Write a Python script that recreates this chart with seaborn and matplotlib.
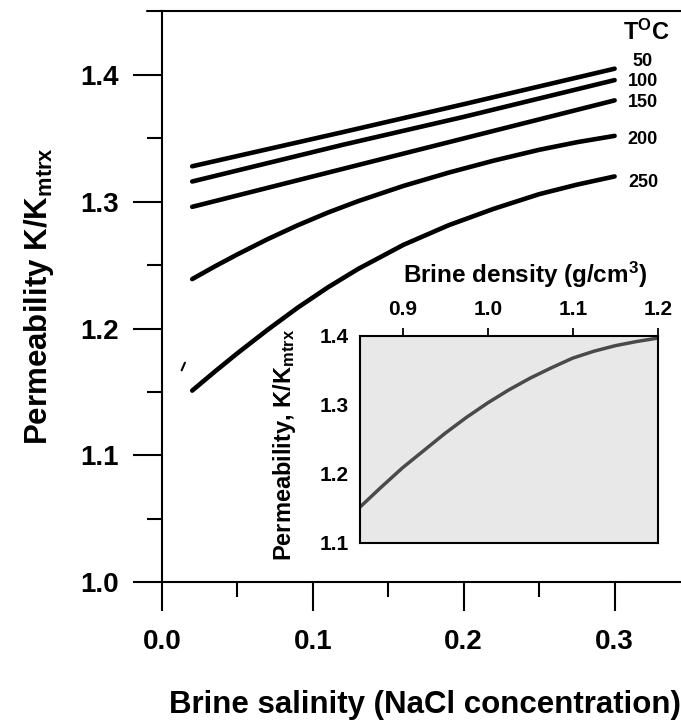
import numpy as np
import pandas as pd
import matplotlib
matplotlib.use("Agg")
import matplotlib.pyplot as plt
from matplotlib.ticker import FormatStrFormatter
import seaborn as sns

# ---------------- data ----------------
# near-straight curves (50, 100, 150 degC)
salinity_lin = [0.02, 0.12, 0.20, 0.30]
perm_50  = [1.328, 1.355, 1.377, 1.405]
perm_100 = [1.316, 1.345, 1.367, 1.396]
perm_150 = [1.296, 1.326, 1.350, 1.380]
# curved ones (200, 250 degC)
salinity_cur = [0.02, 0.035, 0.05, 0.07, 0.09, 0.11, 0.13, 0.16, 0.19, 0.22, 0.25, 0.275, 0.30]
perm_200 = [1.2390, 1.2490, 1.2585, 1.2705, 1.2815, 1.2915, 1.3005, 1.3125, 1.3230,
            1.3325, 1.3410, 1.3470, 1.3520]
perm_250 = [1.1510, 1.1660, 1.1805, 1.1990, 1.2165, 1.2325, 1.2470, 1.2660, 1.2815,
            1.2945, 1.3060, 1.3135, 1.3200]
temperatures = ["50", "100", "150", "200", "250"]

stray_x = [0.0130, 0.0152]
stray_y = [1.167, 1.173]

density = [0.85, 0.875, 0.90, 0.925, 0.95, 0.975, 1.00, 1.025, 1.05,
           1.075, 1.10, 1.125, 1.15, 1.175, 1.20]
perm_density = [1.152, 1.181, 1.209, 1.234, 1.259, 1.282, 1.303, 1.322, 1.339,
                1.354, 1.368, 1.378, 1.386, 1.392, 1.397]

main_xticks = [0.0, 0.1, 0.2, 0.3]
main_xminor = [0.05, 0.15, 0.25]
main_yticks = [1.0, 1.1, 1.2, 1.3, 1.4]
main_yminor = [1.05, 1.15, 1.25, 1.35]
inset_xticks = [0.9, 1.0, 1.1, 1.2]
inset_yticks = [1.1, 1.2, 1.3, 1.4]
inset_yminor = [1.15, 1.25, 1.35]

# label placement (layout, not data)
label_x = 0.3188
label_y = [1.411, 1.395, 1.378, 1.349, 1.315]

# ---------------- style ----------------
sns.set_style("white")
plt.rcParams["font.family"] = ["Liberation Sans", "DejaVu Sans"]
plt.rcParams["font.weight"] = "bold"
plt.rcParams["text.color"] = "black"
plt.rcParams["axes.labelcolor"] = "black"
plt.rcParams["xtick.color"] = "black"
plt.rcParams["ytick.color"] = "black"
plt.rcParams["mathtext.fontset"] = "custom"
plt.rcParams["mathtext.rm"] = "Liberation Sans:bold"
plt.rcParams["mathtext.bf"] = "Liberation Sans:bold"
plt.rcParams["mathtext.it"] = "Liberation Sans:bold"
plt.rcParams["mathtext.default"] = "bf"

fig = plt.figure(figsize=(6.81, 7.21), dpi=100)
ax = fig.add_axes([0.2379, 0.1928, 0.7621, 0.7919])

frames = []
for t, xs, ys in zip(temperatures,
                     [salinity_lin, salinity_lin, salinity_lin, salinity_cur, salinity_cur],
                     [perm_50, perm_100, perm_150, perm_200, perm_250]):
    frames.append(pd.DataFrame({"salinity": xs, "perm": ys, "T": t}))
df = pd.concat(frames, ignore_index=True)
sns.lineplot(data=df, x="salinity", y="perm", hue="T", palette=["black"] * 5,
             linewidth=3.3, legend=False, ax=ax, estimator=None, sort=False)
ax.plot(stray_x, stray_y, color="black", lw=1.5, solid_capstyle="round")

ax.set_xlim(0, 0.344)
ax.set_ylim(1.0, 1.4505)
ax.set_xticks(main_xticks)
ax.set_xticks(main_xminor, minor=True)
ax.set_yticks(main_yticks)
ax.set_yticks(main_yminor, minor=True)
ax.xaxis.set_major_formatter(FormatStrFormatter("%.1f"))
ax.yaxis.set_major_formatter(FormatStrFormatter("%.1f"))
ax.tick_params(axis="both", which="major", direction="out", length=21, width=1.5,
               labelsize=20, color="black", labelcolor="black")
ax.tick_params(axis="both", which="minor", direction="out", length=11, width=1.5,
               color="black")
ax.tick_params(axis="x", which="major", pad=13)
ax.tick_params(axis="y", which="major", pad=10)
ax.xaxis.set_ticks_position("bottom")
ax.yaxis.set_ticks_position("left")
for s in ["left", "bottom", "top"]:
    ax.spines[s].set_linewidth(1.5)
    ax.spines[s].set_color("black")
ax.spines["right"].set_visible(False)
ax.plot([-15 / 519, 0], [1, 1], transform=ax.transAxes, color="black", lw=1.5,
        clip_on=False)

ax.set_xlabel("Brine salinity (NaCl concentration)", fontsize=22.5, fontweight="bold")
ax.xaxis.set_label_coords(0.507, -0.19)
ax.xaxis.label.set_va("top")
ax.set_ylabel("Permeability K/K$_{mtrx}$", fontsize=22.5, fontweight="bold")
ax.yaxis.set_label_coords(-0.204, 0.5)

ax.text(0.3207, 1.434, "T$^{O}$C", fontsize=17, fontweight="bold",
        ha="center", va="center")
for t, ly in zip(temperatures, label_y):
    ax.text(label_x, ly, t, fontsize=13, fontweight="bold", ha="center", va="center")

# ---------------- inset ----------------
axi = fig.add_axes([0.5286, 0.2469, 0.4376, 0.2871])
axi.set_facecolor("#e8e8e8")
sns.lineplot(x=density, y=perm_density, color="#4a4a4a", linewidth=2.5, ax=axi)
axi.set_xlim(0.85, 1.2)
axi.set_ylim(1.1, 1.4)
axi.xaxis.tick_top()
axi.xaxis.set_label_position("top")
axi.set_xticks(inset_xticks)
axi.set_yticks(inset_yticks)
axi.set_yticks(inset_yminor, minor=True)
axi.xaxis.set_major_formatter(FormatStrFormatter("%.1f"))
axi.yaxis.set_major_formatter(FormatStrFormatter("%.1f"))
axi.tick_params(axis="both", which="major", direction="out", length=6, width=1.3,
                labelsize=15, color="black", labelcolor="black")
axi.tick_params(axis="y", which="minor", direction="out", length=3, width=1.2,
                color="black")
axi.tick_params(axis="x", which="major", pad=6)
axi.tick_params(axis="y", which="major", pad=2)
for s in axi.spines.values():
    s.set_visible(True)
    s.set_linewidth(1.5)
    s.set_color("black")
axi.set_xlabel("Brine density (g/cm$^{3}$)", fontsize=17.5, fontweight="bold")
axi.xaxis.set_label_coords(0.554, 1.222)
axi.xaxis.label.set_va("bottom")
axi.set_ylabel("Permeability, K/K$_{mtrx}$", fontsize=17, fontweight="bold")
axi.yaxis.set_label_coords(-0.208, 0.473)

fig.savefig("out.png", dpi=100)
